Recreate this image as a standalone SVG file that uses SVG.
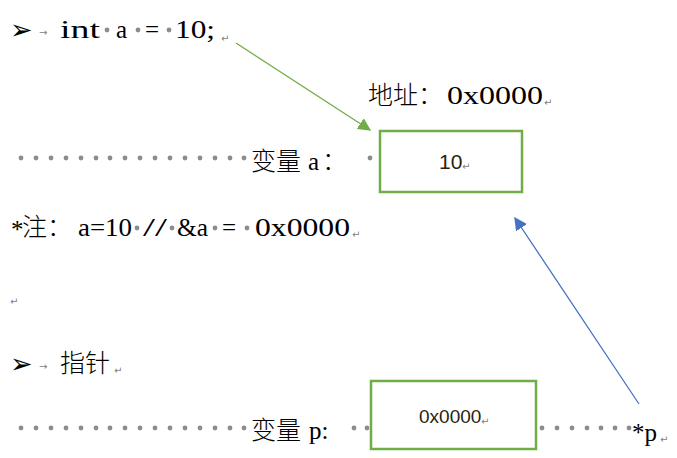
<svg xmlns="http://www.w3.org/2000/svg" width="677" height="458" viewBox="0 0 677 458">
<style>
.t{font-family:"Liberation Serif","Noto Sans CJK SC",serif;font-size:25px;fill:#000}
.c{font-family:"Noto Sans CJK SC","Liberation Serif",sans-serif;font-size:25px;font-weight:300;fill:#000}
.m{font-family:"DejaVu Sans",sans-serif;font-size:10px;fill:#808080}
.b{font-family:"DejaVu Sans",sans-serif;font-size:27px;fill:#000}
.s{font-family:"Liberation Sans","Noto Sans",sans-serif;font-size:21px;fill:#2a1f10}
.d{fill:#8c8c8c}
.box{fill:#fff;stroke:#70AD47;stroke-width:2.5}
</style>
<defs>
<marker id="ag" viewBox="0 0 10 10" refX="9" refY="5" markerWidth="10" markerHeight="10" orient="auto" markerUnits="strokeWidth"><path d="M0,0 L10,5 L0,10 z" fill="#70AD47"/></marker>
<marker id="ab" viewBox="0 0 10 10" refX="9" refY="5" markerWidth="10" markerHeight="10" orient="auto" markerUnits="strokeWidth"><path d="M0,0 L10,5 L0,10 z" fill="#4472C4"/></marker>
</defs>

<g id="line1">
<text class="b" x="10" y="39">➢</text>
<text class="m" x="39" y="36">→</text>
<text class="t" x="60" y="38" textLength="40" lengthAdjust="spacingAndGlyphs">int</text>
<circle class="d" cx="107" cy="30" r="2.4"/>
<text class="t" x="116" y="38">a</text>
<circle class="d" cx="138" cy="30" r="2.4"/>
<text class="t" x="145" y="38">=</text>
<circle class="d" cx="169" cy="30" r="2.4"/>
<text class="t" x="175" y="38" textLength="40" lengthAdjust="spacingAndGlyphs">10;</text>
<text class="m" x="221" y="42">↵</text>
</g>

<g id="addr">
<text class="c" x="368" y="104">地址：</text>
<text class="t" x="447" y="104" textLength="96" lengthAdjust="spacingAndGlyphs">0x0000</text>
<text class="m" x="544" y="106">↵</text>
</g>

<g id="row-a">
<g class="d">
<circle cx="21" cy="158" r="2.4"/><circle cx="36" cy="158" r="2.4"/><circle cx="51" cy="158" r="2.4"/><circle cx="66" cy="158" r="2.4"/>
<circle cx="81" cy="158" r="2.4"/><circle cx="96" cy="158" r="2.4"/><circle cx="110" cy="158" r="2.4"/><circle cx="125" cy="158" r="2.4"/>
<circle cx="140" cy="158" r="2.4"/><circle cx="155" cy="158" r="2.4"/><circle cx="170" cy="158" r="2.4"/><circle cx="185" cy="158" r="2.4"/>
<circle cx="200" cy="158" r="2.4"/><circle cx="215" cy="158" r="2.4"/><circle cx="230" cy="158" r="2.4"/><circle cx="244" cy="158" r="2.4"/>
<circle cx="370" cy="158" r="2.4"/>
</g>
<text class="c" x="251" y="170">变量</text>
<text class="t" x="308" y="170">a</text>
<text class="c" x="322" y="170">：</text>
</g>

<g id="box-a">
<rect class="box" x="380" y="131" width="142" height="61"/>
<text class="s" x="439" y="169">10</text>
<text class="m" x="462" y="170">↵</text>
</g>

<g id="note">
<text class="t" x="11" y="238">*</text>
<text class="c" x="22" y="236">注：</text>
<text class="t" x="78" y="236" textLength="54" lengthAdjust="spacingAndGlyphs">a=10</text>
<circle class="d" cx="137" cy="228" r="2.4"/>
<text class="t" x="143" y="236" textLength="24" lengthAdjust="spacingAndGlyphs">//</text>
<circle class="d" cx="172" cy="228" r="2.4"/>
<text class="t" x="177" y="236" textLength="31" lengthAdjust="spacingAndGlyphs">&amp;a</text>
<circle class="d" cx="215" cy="228" r="2.4"/>
<text class="t" x="222" y="236">=</text>
<circle class="d" cx="247" cy="228" r="2.4"/>
<text class="t" x="255" y="236" textLength="95" lengthAdjust="spacingAndGlyphs">0x0000</text>
<text class="m" x="352" y="238">↵</text>
</g>

<g id="blank">
<text class="m" x="10" y="305">↵</text>
</g>

<g id="ptr">
<text class="b" x="10" y="373">➢</text>
<text class="m" x="39" y="370">→</text>
<text class="c" x="60" y="372">指针</text>
<text class="m" x="114" y="374">↵</text>
</g>

<g id="row-p">
<g class="d">
<circle cx="21" cy="428" r="2.4"/><circle cx="36" cy="428" r="2.4"/><circle cx="51" cy="428" r="2.4"/><circle cx="66" cy="428" r="2.4"/>
<circle cx="81" cy="428" r="2.4"/><circle cx="96" cy="428" r="2.4"/><circle cx="110" cy="428" r="2.4"/><circle cx="125" cy="428" r="2.4"/>
<circle cx="140" cy="428" r="2.4"/><circle cx="155" cy="428" r="2.4"/><circle cx="170" cy="428" r="2.4"/><circle cx="185" cy="428" r="2.4"/>
<circle cx="200" cy="428" r="2.4"/><circle cx="215" cy="428" r="2.4"/><circle cx="230" cy="428" r="2.4"/><circle cx="244" cy="428" r="2.4"/>
<circle cx="354" cy="428" r="2.4"/><circle cx="367" cy="428" r="2.4"/>
<circle cx="542" cy="428" r="2.4"/><circle cx="557" cy="428" r="2.4"/><circle cx="572" cy="428" r="2.4"/><circle cx="587" cy="428" r="2.4"/>
<circle cx="601" cy="428" r="2.4"/><circle cx="615" cy="428" r="2.4"/><circle cx="629" cy="428" r="2.4"/>
</g>
<text class="c" x="251" y="439">变量</text>
<text class="t" x="309" y="439">p:</text>
<text class="t" x="632" y="441">*p</text>
<text class="m" x="660" y="443">↵</text>
</g>

<g id="box-p">
<rect class="box" x="371" y="381" width="165" height="68"/>
<text class="s" x="419" y="423" style="font-size:19px">0x0000</text>
<text class="m" x="481" y="425">↵</text>
</g>

<g id="connectors">
<line x1="236" y1="43" x2="370" y2="130" stroke="#70AD47" stroke-width="1.3" marker-end="url(#ag)"/>
<line x1="639" y1="404" x2="515" y2="218" stroke="#4472C4" stroke-width="1.3" marker-end="url(#ab)"/>
</g>
</svg>
